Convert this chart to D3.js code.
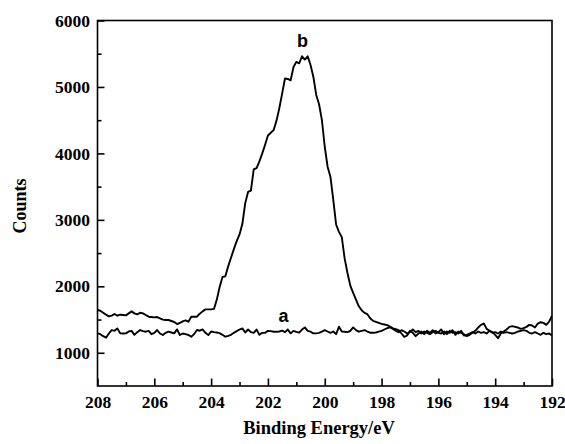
<html lang="en">
<head>
  <meta charset="UTF-8"/>
  <title>XPS N1s spectra</title>
  <script src="https://d3js.org/d3.v7.min.js"></script>
  <style>
    body { margin: 0; background-color: #ffffff; }
    .tick text { font-family: "Liberation Serif", "Times New Roman", serif; font-weight: bold; font-size: 17.5px; fill: #000; }
    .tick line { stroke: #000; stroke-width: 1.6; }
  </style>
</head>
<body>
<svg id="chart" width="565" height="444"></svg>
<script>
// binding energy grid: 208 -> 192 eV, 0.1 eV step
const energyStart = 208;
const energyStep = 0.1;

// curve a (counts), 208.0 ... 192.0
const countsA = [
  1292,1280,1250,1227,1290,1342,1330,1367,1292,1290,
  1292,1320,1330,1270,1310,1342,1325,1317,1330,1280,
  1300,1342,1290,1267,1300,1317,1305,1292,1352,1267,
  1290,1280,1267,1242,1280,1342,1332,1352,1300,1267,
  1320,1310,
  1305,1295,1270,1242,1255,1270,1300,1325,1350,1367,
  1305,1350,1310,1300,1350,1270,1300,1302,1330,1325,
  1317,1317,1320,1332,1310,1350,1292,1330,1315,1302,
  1350,1382,1330,1317,1292,1292,1300,1317,1340,1320,
  1300,1320,1280,1392,1320,1317,1310,1330,1382,1340,
  1317,1330,1340,1320,1302,1302,1305,1317,1330,1350,
  1370,1382,1360,1330,
  1310,1340,1320,1290,1310,
  1350,1310,1330,1290,1320,1300,1280,1310,1330,1300,
  1290,1320,1280,1330,1300,1310,1290,1330,1260,1270,
  1290,1310,1290,1320,1300,1310,1290,1330,1300,1310,
  1290,1320,1300,1310,1300,1290,1300,1320,1330,1340,
  1330,1300,1290,1310,1290,1270,1300,1280,1290,1260
];

// curve b (counts), 208.0 ... 192.0
const countsB = [
  1643,1633,1603,1573,1548,1558,1583,1558,1573,1568,
  1563,1593,1623,1593,1578,1603,1593,1568,1543,1538,
  1533,1538,1518,1498,1493,1493,1478,1463,1433,1448,
  1473,1488,1468,1543,1543,1543,1588,1623,1653,1653,
  1653,1660,
  1800,1990,2140,2150,2300,2430,2560,2680,2780,2940,
  3250,3420,3440,3760,3780,3880,4000,4130,4270,4310,
  4350,4490,4680,4900,5127,5120,5100,5300,5377,5355,
  5462,5413,5462,5330,5150,4880,4740,4500,4100,
  3800,3650,3300,2930,2820,2740,2420,2200,2010,1900,
  1800,1700,1640,1600,1580,1520,1480,1465,1450,1435,
  1425,1415,1395,1368,1355,
  1340,1290,1240,1260,1330,
  1300,1250,1290,1320,1280,1330,1300,1340,1290,1310,
  1350,1280,1320,1300,1340,1270,1320,1300,1280,1250,
  1270,1300,1330,1380,1420,1440,1360,1330,1310,1270,
  1220,1290,1320,1350,1390,1400,1390,1380,1360,1370,
  1390,1420,1410,1380,1440,1460,1450,1420,1470,1560
];

const xTicks = [208, 206, 204, 202, 200, 198, 196, 194, 192];
const xMinorTicks = [207, 205, 203, 201, 199, 197, 195, 193];
const yTicks = [1000, 2000, 3000, 4000, 5000, 6000];
const yMinorTicks = [1500, 2500, 3500, 4500, 5500];

const seriesLabels = [
  {name: "a", energy: 201.45, counts: 1470},
  {name: "b", energy: 200.78, counts: 5605}
];

const plotLeft = 97.5, plotRight = 552, plotTop = 20.5, plotBottom = 386;

const svg = d3.select("#chart");

const xScale = d3.scaleLinear().domain([208, 192]).range([plotLeft, plotRight]);
const yScale = d3.scaleLinear().domain([500, 6000]).range([plotBottom, plotTop]);

const energies = countsA.map((d, i) => +(energyStart - i * energyStep).toFixed(1));

svg.append("defs").append("clipPath")
    .attr("id", "plotclip")
  .append("rect")
    .attr("x", plotLeft).attr("y", plotTop)
    .attr("width", plotRight - plotLeft).attr("height", plotBottom - plotTop);

const line = d3.line()
    .x((d) => xScale(d[0]))
    .y((d) => yScale(d[1]));

[countsA, countsB].forEach(function (series) {
  svg.append("path")
    .datum(series.map((v, i) => [energies[i], v]))
    .attr("clip-path", "url(#plotclip)")
    .attr("fill", "none")
    .attr("stroke", "#000")
    .attr("stroke-width", 1.9)
    .attr("stroke-linejoin", "round")
    .attr("d", line);
});

// x axis, ticks pointing inward
svg.append("g")
    .attr("transform", `translate(0, ${plotBottom})`)
    .call(d3.axisBottom(xScale).tickValues(xTicks).tickSize(-7.5).tickPadding(10).tickFormat(d3.format("d")))
    .call((g) => g.select(".domain").remove());

svg.append("g")
    .attr("transform", `translate(0, ${plotBottom})`)
    .call(d3.axisBottom(xScale).tickValues(xMinorTicks).tickSize(-4).tickFormat(""))
    .call((g) => g.select(".domain").remove());

// y axis
svg.append("g")
    .attr("transform", `translate(${plotLeft}, 0)`)
    .call(d3.axisLeft(yScale).tickValues(yTicks).tickSize(-7).tickPadding(7.5).tickFormat(d3.format("d")))
    .call((g) => g.select(".domain").remove());

svg.append("g")
    .attr("transform", `translate(${plotLeft}, 0)`)
    .call(d3.axisLeft(yScale).tickValues(yMinorTicks).tickSize(-4).tickFormat(""))
    .call((g) => g.select(".domain").remove());

// frame
svg.append("rect")
    .attr("x", plotLeft).attr("y", plotTop)
    .attr("width", plotRight - plotLeft).attr("height", plotBottom - plotTop)
    .attr("fill", "none")
    .attr("stroke", "#000")
    .attr("stroke-width", 1.6);

svg.selectAll(".series-label")
  .data(seriesLabels)
  .enter()
  .append("text")
    .attr("class", "series-label")
    .attr("x", (d) => xScale(d.energy))
    .attr("y", (d) => yScale(d.counts))
    .attr("text-anchor", "middle")
    .style("font-family", "'Liberation Sans', Arial, sans-serif")
    .style("font-weight", "bold")
    .style("font-size", "18px")
    .text((d) => d.name);

svg.append("text")
    .attr("x", 319)
    .attr("y", 434)
    .attr("text-anchor", "middle")
    .style("font-family", "'Liberation Serif', 'Times New Roman', serif")
    .style("font-weight", "bold")
    .style("font-size", "18.5px")
    .text("Binding Energy/eV");

svg.append("text")
    .attr("transform", "translate(26, 206) rotate(-90)")
    .attr("text-anchor", "middle")
    .style("font-family", "'Liberation Serif', 'Times New Roman', serif")
    .style("font-weight", "bold")
    .style("font-size", "18px")
    .text("Counts");
</script>
</body>
</html>
